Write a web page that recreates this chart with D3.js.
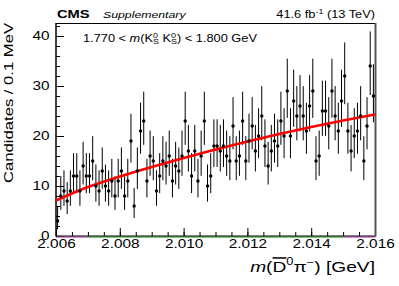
<!DOCTYPE html>
<html>
<head>
<meta charset="utf-8">
<script src="https://cdn.jsdelivr.net/npm/d3@7"></script>
<style>
  html, body { margin: 0; padding: 0; background: #fff; }
  svg { display: block; font-family: "Liberation Sans", Arial, Helvetica, sans-serif; }
</style>
</head>
<body>
<div id="chart"></div>
<script>

// --------------------------------------------------
//  Data
// --------------------------------------------------

// 100 bins of 0.1 MeV starting at 2.006 GeV
const binLow = 2.006;
const binWidth = 0.0001;
const counts = [
  3, 8, 9, 7, 9, 12, 12, 9, 14, 12, 12, 15, 10, 9, 13, 10, 9, 11, 8, 11,
  13, 8, 11, 19, 6, 13, 21, 23, 11, 16, 15, 9, 12, 15, 14, 16, 11, 14, 13, 16,
  23, 17, 12, 17, 11, 16, 23, 10, 12, 18, 18, 17, 18, 16, 15, 22, 15, 16, 23, 15,
  19, 22, 17, 20, 24, 18, 14, 17, 19, 18, 23, 20, 29, 20, 27, 24, 26, 24, 21, 26,
  29, 15, 16, 25, 25, 22, 29, 24, 21, 27, 32, 21, 17, 20, 21, 24, 15, 22, 34, 28
];

// fitted background curve, sampled every 1 MeV
const fitMass  = [2.006, 2.007, 2.008, 2.009, 2.010, 2.011, 2.012, 2.013, 2.014, 2.015, 2.016];
const fitValue = [7.1, 9.8, 11.9, 13.8, 15.6, 17.3, 18.9, 20.4, 21.8, 23.1, 24.3];

// zero-level components along the axis
const greenRange = [2.007, 2.015];
const violetRanges = [[2.006, 2.007], [2.015, 2.016]];

const xTicks = [2.006, 2.008, 2.010, 2.012, 2.014, 2.016];
const yTicks = [0, 10, 20, 30, 40];

// --------------------------------------------------
//  Layout
// --------------------------------------------------

const width = 399;
const height = 286;
const plot = { left: 56, right: 375, top: 23, bottom: 236 };
const sx = 1.28;   // glyphs in the original are wider than Liberation Sans

const x = d3.scaleLinear().domain([2.006, 2.016]).range([plot.left, plot.right]);
const y = d3.scaleLinear().domain([0, 42.6]).range([plot.bottom, plot.top]);

// Gehrels approximation of the Poisson interval
function poissonErr(n) {
  return {
    lo: n > 0 ? Math.sqrt(n - 0.25) : 0,
    hi: Math.sqrt(n + 0.75) + 1
  };
}

const bins = counts.map((n, i) => {
  const e = poissonErr(n);
  return { m: binLow + (i + 0.5) * binWidth, n: n, lo: n - e.lo, hi: n + e.hi };
});

const svg = d3.select('#chart')
  .append('svg')
    .attr('width', width)
    .attr('height', height);

svg.append('rect')
  .attr('width', width).attr('height', height)
  .attr('fill', '#fff');

svg.append('clipPath').attr('id', 'clip')
  .append('rect')
    .attr('x', plot.left).attr('y', plot.top)
    .attr('width', plot.right - plot.left)
    .attr('height', plot.bottom - plot.top);

// --------------------------------------------------
//  Axes
// --------------------------------------------------

const minorY = d3.range(0, 43, 2);
const minorX = d3.range(0, 21).map(i => 2.006 + i * 0.0005);

svg.append('g')
  .attr('transform', `translate(${plot.left},0)`)
  .call(d3.axisLeft(y).tickValues(minorY).tickSizeInner(-4).tickSizeOuter(0).tickFormat(''))
  .call(g => g.select('.domain').remove());

let yAxis = svg.append('g')
  .attr('transform', `translate(${plot.left},0)`)
  .call(d3.axisLeft(y).tickValues(yTicks).tickSizeInner(-8).tickSizeOuter(0)
    .tickPadding(5).tickFormat(d3.format('d')))
  .call(g => g.select('.domain').remove());

svg.append('g')
  .attr('transform', `translate(0,${plot.bottom})`)
  .call(d3.axisBottom(x).tickValues(minorX).tickSizeInner(-4).tickSizeOuter(0).tickFormat(''))
  .call(g => g.select('.domain').remove());

let xAxis = svg.append('g')
  .attr('transform', `translate(0,${plot.bottom})`)
  .call(d3.axisBottom(x).tickValues(xTicks).tickSizeInner(-8).tickSizeOuter(0)
    .tickPadding(3).tickFormat(d3.format('.3f')))
  .call(g => g.select('.domain').remove());

svg.selectAll('.tick line').attr('stroke', '#000').attr('stroke-width', 1);

[yAxis, xAxis].forEach(a => {
  a.attr('font-family', null).attr('font-size', 12);
  a.selectAll('text')
    .attr('fill', '#000')
    .attr('transform', `scale(${sx},1)`);
});

// zero lines of the components
svg.append('line')
  .attr('x1', x(greenRange[0])).attr('x2', x(greenRange[1]))
  .attr('y1', y(0) + 1).attr('y2', y(0) + 1)
  .attr('stroke', '#4fb34f').attr('stroke-width', 1.6);

violetRanges.forEach(r => {
  svg.append('line')
    .attr('x1', x(r[0])).attr('x2', x(r[1]))
    .attr('y1', y(0) + 1).attr('y2', y(0) + 1)
    .attr('stroke', '#d070d0').attr('stroke-width', 1.6);
});

// frame
svg.append('line')
  .attr('x1', plot.left).attr('x2', plot.right)
  .attr('y1', plot.top + 0.5).attr('y2', plot.top + 0.5)
  .attr('stroke', '#000').attr('stroke-width', 1);
svg.append('line')
  .attr('x1', plot.left).attr('x2', plot.right + 1)
  .attr('y1', plot.bottom).attr('y2', plot.bottom)
  .attr('stroke', '#000').attr('stroke-width', 1);
svg.append('line')
  .attr('x1', plot.left).attr('x2', plot.left)
  .attr('y1', plot.top).attr('y2', plot.bottom + 0.5)
  .attr('stroke', '#000').attr('stroke-width', 1.5);
svg.append('line')
  .attr('x1', plot.right + 0.5).attr('x2', plot.right + 0.5)
  .attr('y1', plot.top).attr('y2', plot.bottom + 0.5)
  .attr('stroke', '#555').attr('stroke-width', 2);

// --------------------------------------------------
//  Data points and fit
// --------------------------------------------------

const area = svg.append('g').attr('clip-path', 'url(#clip)');

area.selectAll('line.err')
  .data(bins)
  .enter()
  .append('line')
    .attr('class', 'err')
    .attr('x1', d => x(d.m)).attr('x2', d => x(d.m))
    .attr('y1', d => y(d.lo)).attr('y2', d => y(d.hi))
    .attr('stroke', '#000')
    .attr('stroke-width', 1);

const fitLine = d3.line()
  .x((d, i) => x(fitMass[i]))
  .y(d => y(d))
  .curve(d3.curveMonotoneX);

area.append('path')
  .attr('d', fitLine(fitValue))
  .attr('fill', 'none')
  .attr('stroke', '#ff0000')
  .attr('stroke-width', 2.6);

area.selectAll('circle')
  .data(bins)
  .enter()
  .append('circle')
    .attr('cx', d => x(d.m))
    .attr('cy', d => y(d.n))
    .attr('r', 1.7)
    .attr('fill', '#000');

// --------------------------------------------------
//  Texts
// --------------------------------------------------

function textAt(px, py, size, anchor, rotate) {
  return svg.append('text')
    .attr('transform', `translate(${px},${py})` + (rotate ? ` rotate(${rotate})` : '') + ` scale(${sx},1)`)
    .attr('font-size', size)
    .attr('text-anchor', anchor || 'start')
    .attr('fill', '#000');
}

textAt(57, 17.5, 11.5).attr('font-weight', 'bold').text('CMS');
textAt(103, 17.5, 9.6).attr('font-style', 'italic').text('Supplementary');

let lumi = textAt(375, 17.5, 10, 'end');
lumi.append('tspan').text('41.6 fb');
lumi.append('tspan').attr('font-size', 7).attr('dy', -4).text('-1');
lumi.append('tspan').attr('dy', 4).text(' (13 TeV)');

// 1.770 < m(K0S K0S) < 1.800 GeV
let range = textAt(83, 41.7, 10);
range.append('tspan').text('1.770 < ');
range.append('tspan').attr('font-style', 'italic').text('m');
range.append('tspan').text('(K');
range.append('tspan').attr('font-size', 7).attr('dy', -4).text('0');
range.append('tspan').attr('font-size', 7).attr('dx', -3.9).attr('dy', 6.5).text('S');
range.append('tspan').attr('dy', -2.5).text(' K');
range.append('tspan').attr('font-size', 7).attr('dy', -4).text('0');
range.append('tspan').attr('font-size', 7).attr('dx', -3.9).attr('dy', 6.5).text('S');
range.append('tspan').attr('dy', -2.5).text(') < 1.800 GeV');

// x title: m(D0bar pi-) [GeV]
let xTitle = textAt(375, 272, 15, 'end');
xTitle.append('tspan').attr('font-style', 'italic').text('m');
xTitle.append('tspan').text('(');
xTitle.append('tspan').style('text-decoration', 'overline').text('D');
xTitle.append('tspan').attr('font-size', 10).attr('dy', -7).text('0');
xTitle.append('tspan').attr('dy', 7).text('\u03c0');
xTitle.append('tspan').attr('font-size', 10).attr('dy', -6).text('\u2212');
xTitle.append('tspan').attr('dy', 6).text(') [GeV]');

textAt(12.8, 23, 13, 'end', -90).text('Candidates / 0.1 MeV');

</script>
</body>
</html>
